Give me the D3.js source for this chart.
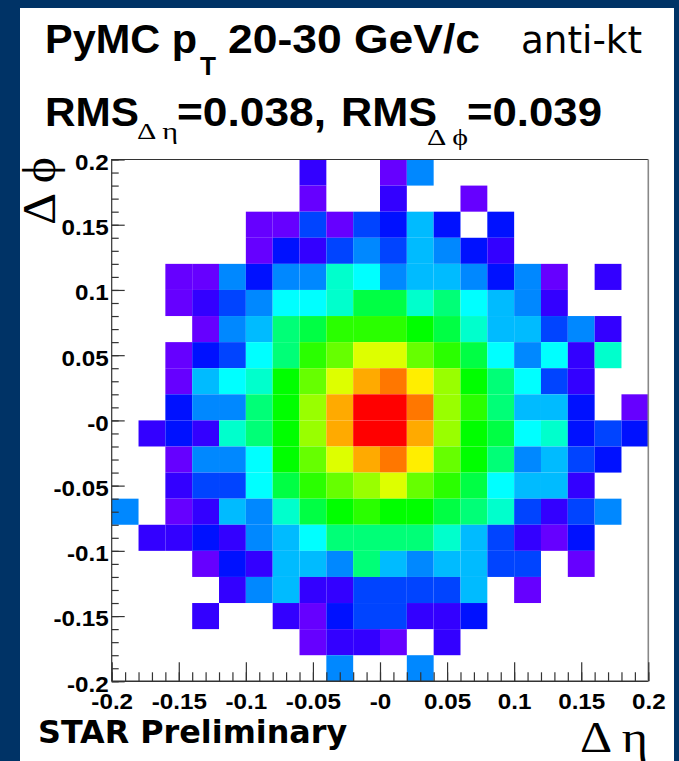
<!DOCTYPE html>
<html>
<head>
<meta charset="utf-8">
<script src="https://cdn.jsdelivr.net/npm/d3@7"></script>
<style>
  html, body { margin: 0; padding: 0; background: #003366; }
  svg { display: block; }
  .axis text { font-family: "Liberation Sans", sans-serif; font-weight: bold; font-size: 22px; fill: #000; }
  .axis path { display: none; }
  .axis line { stroke: #333; stroke-width: 1.2; }
</style>
</head>
<body>
<div id="chart"></div>
<script>
const xTicks = [-0.2, -0.15, -0.1, -0.05, 0, 0.05, 0.1, 0.15, 0.2];
const yTicks = [-0.2, -0.15, -0.1, -0.05, 0, 0.05, 0.1, 0.15, 0.2];
const xTickLabels = ["-0.2", "-0.15", "-0.1", "-0.05", "-0", "0.05", "0.1", "0.15", "0.2"];
const yTickLabels = ["-0.2", "-0.15", "-0.1", "-0.05", "-0", "0.05", "0.1", "0.15", "0.2"];
const minorTicks = d3.range(-20, 21).map(d => d / 100);

// lower edges of the delta eta bins, left to right
const etaBins = d3.range(-20, 20, 2).map(d => d / 100);
// lower edges of the delta phi bins, top row first
const phiBins = d3.range(18, -22, -2).map(d => d / 100);

// colour level of each cell, 0 = empty bin
const levels = [
  [0,0,0,0,0,0,0,2,0,0,1,5,0,0,0,0,0,0,0,0],
  [0,0,0,0,0,0,0,1,0,0,2,0,0,1,0,0,0,0,0,0],
  [0,0,0,0,0,1,1,4,1,4,3,6,3,0,3,0,0,0,0,0],
  [0,0,0,0,0,1,3,2,4,5,4,6,5,3,2,0,0,0,0,0],
  [0,0,1,1,5,3,5,5,8,7,5,6,6,5,3,5,1,0,2,0],
  [0,0,1,2,4,5,7,7,8,10,10,8,9,7,6,5,2,0,0,0],
  [0,0,0,1,5,6,9,10,12,12,12,11,10,8,6,6,4,5,2,0],
  [0,0,1,3,4,7,9,12,13,15,15,13,12,10,7,5,7,2,8,0],
  [0,0,1,6,7,8,11,13,15,17,18,16,14,11,9,7,4,2,0,0],
  [0,0,3,5,5,9,11,14,17,19,19,18,14,12,9,6,6,3,0,1],
  [0,2,3,2,8,9,11,14,17,19,19,17,14,11,10,7,8,3,4,3],
  [0,0,1,5,5,7,11,13,15,17,18,16,13,11,9,5,6,4,3,0],
  [0,0,2,4,4,7,10,12,13,14,15,13,12,10,7,6,6,2,0,0],
  [5,0,1,2,6,5,8,10,11,12,11,11,10,9,8,4,2,4,5,0],
  [0,2,2,3,2,5,6,7,9,9,9,9,8,6,4,2,1,3,0,0],
  [0,0,0,1,3,2,6,6,5,9,6,5,6,6,4,4,0,1,0,0],
  [0,0,0,0,2,5,6,2,2,4,4,4,4,6,0,1,0,0,0,0],
  [0,0,0,2,0,0,2,1,3,4,4,2,2,3,0,0,0,0,0,0],
  [0,0,0,0,0,0,0,1,2,2,1,0,2,0,0,0,0,0,0,0],
  [0,0,0,0,0,0,0,0,5,0,0,5,0,0,0,0,0,0,0,0]
];

const palette = ["#6600ff", "#3300ff", "#0011ff", "#0044ff", "#0088ff", "#00bbff", "#00ffff",
  "#00ffcc", "#00ff77", "#00ff44", "#00ff00", "#2aff00", "#66ff00", "#99ff00", "#ddff00",
  "#ffee00", "#ffaa00", "#ff7700", "#ff0000"];

const width = 679, height = 761;
const margin = { top: 159.5, right: 30.7, bottom: 79.7, left: 111.7 };

const svg = d3.select("#chart")
  .append("svg")
  .attr("width", width)
  .attr("height", height);

// white page inside the navy slide
svg.append("rect")
  .attr("x", 20).attr("y", 8)
  .attr("width", 654).attr("height", height - 8)
  .attr("fill", "#fff");

const x = d3.scaleLinear().domain([-0.2, 0.2]).range([margin.left, width - margin.right]);
const y = d3.scaleLinear().domain([-0.2, 0.2]).range([height - margin.bottom, margin.top]);
const color = d3.scaleQuantize().domain([0.5, palette.length + 0.5]).range(palette);

const cells = [];
levels.forEach(function(row, r) {
  row.forEach(function(level, c) {
    if (level > 0) cells.push({ eta: etaBins[c], phi: phiBins[r], level: level });
  });
});

svg.append("g").selectAll("rect")
  .data(cells)
  .enter()
  .append("rect")
  .attr("x", d => x(d.eta))
  .attr("y", d => y(d.phi + 0.02))
  .attr("width", d => x(d.eta + 0.02) - x(d.eta))
  .attr("height", d => y(d.phi) - y(d.phi + 0.02))
  .attr("fill", d => color(d.level));

// frame
svg.append("path")
  .attr("d", d3.line()([[x(-0.2), y(-0.2)], [x(-0.2), y(0.2)], [x(0.2), y(0.2)]]))
  .attr("fill", "none").attr("stroke", "#333").attr("stroke-width", 1.2);
svg.append("path")
  .attr("d", d3.line()([[x(-0.2), y(-0.2)], [x(0.2), y(-0.2)]]))
  .attr("fill", "none").attr("stroke", "#333").attr("stroke-width", 1.4);
svg.append("path")
  .attr("d", d3.line()([[x(0.2), y(-0.2)], [x(0.2), y(0.2)]]))
  .attr("fill", "none").attr("stroke", "#888").attr("stroke-width", 1.6);

// the tick labels in the reference are a bit wider than the font
function stretch(sel) {
  sel.each(function() {
    d3.select(this)
      .attr("textLength", this.getComputedTextLength() * 1.1)
      .attr("lengthAdjust", "spacingAndGlyphs");
  });
}

// inward ticks, minor then major
svg.append("g").attr("class", "axis")
  .attr("transform", "translate(0," + y(-0.2) + ")")
  .call(d3.axisBottom(x).tickValues(minorTicks).tickSize(-9).tickFormat(""));
svg.append("g").attr("class", "axis")
  .attr("transform", "translate(0," + y(-0.2) + ")")
  .call(d3.axisBottom(x).tickValues(xTicks).tickSize(-19).tickPadding(12)
    .tickFormat((d, i) => xTickLabels[i]))
  .selectAll("text").call(stretch);
svg.append("g").attr("class", "axis")
  .attr("transform", "translate(" + x(-0.2) + ",0)")
  .call(d3.axisLeft(y).tickValues(minorTicks).tickSize(-7).tickFormat(""));
svg.append("g").attr("class", "axis")
  .attr("transform", "translate(" + x(-0.2) + ",0)")
  .call(d3.axisLeft(y).tickValues(yTicks).tickSize(-13).tickPadding(3)
    .tickFormat((d, i) => yTickLabels[i]))
  .selectAll("text").attr("dy", "0.45em").call(stretch);

// fit is the measured width of the string in the reference
function label(str, px, py, size, family, weight, fit) {
  const t = svg.append("text")
    .attr("x", px).attr("y", py)
    .attr("font-size", size)
    .attr("font-family", family)
    .attr("font-weight", weight || "normal")
    .attr("fill", "#000")
    .text(str);
  if (fit) t.attr("textLength", fit).attr("lengthAdjust", "spacingAndGlyphs");
  return t;
}

const sans = '"Liberation Sans", sans-serif';
const serif = '"Liberation Serif", "DejaVu Serif", serif';
const dejavu = '"DejaVu Sans", sans-serif';

label("PyMC p", 45, 53, 40, sans, "bold", 152);
label("T", 200, 75, 25, sans, "bold", 16);
label("20-30 GeV/c", 228, 53, 40, sans, "bold", 252);
label("anti-kt", 521, 53, 37, dejavu, "normal", 121);

label("RMS", 45, 126, 40, sans, "bold", 94);
label("\u0394 \u03b7", 137, 139, 24, serif, "normal", 41);
label("=0.038,", 177, 126, 40, sans, "bold", 149);
label("RMS", 341, 126, 40, sans, "bold", 96);
label("\u0394 \u03d5", 427, 145, 24, serif, "normal", 41);
label("=0.039", 467, 126, 40, sans, "bold", 135);

label("STAR Preliminary", 38, 743, 31.8, dejavu, "bold");
label("\u0394 \u03b7", 580, 752, 45, serif, "normal", 68);

label("\u0394 \u03d5", 0, 0, 46, serif, "normal", 68)
  .attr("transform", "translate(55,225) rotate(-90)");
</script>
</body>
</html>
